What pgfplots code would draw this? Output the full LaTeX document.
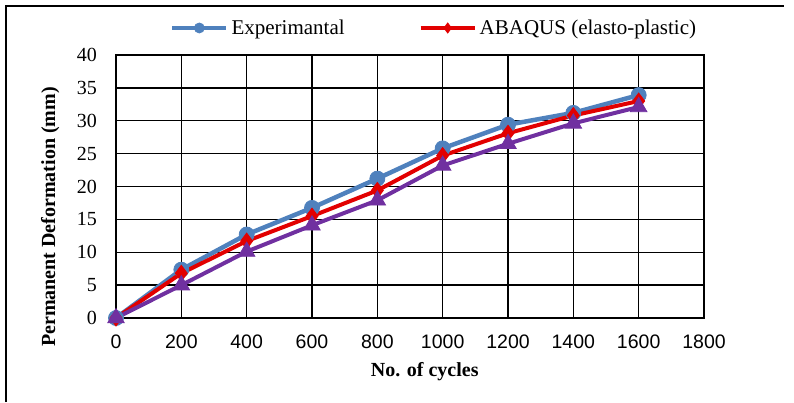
\documentclass[border=0pt]{standalone}
\usepackage{fontspec}
\setmainfont{Liberation Serif}
\newfontfamily\arial{Liberation Sans}
\usepackage{pgfplots}
\pgfplotsset{compat=1.18}
\definecolor{cblue}{RGB}{79,129,189}
\definecolor{cred}{RGB}{226,0,0}
\definecolor{cpurple}{RGB}{112,48,160}
\begin{document}
\begin{tikzpicture}[x=1pt,y=1pt]
\useasboundingbox (0,0) rectangle (794,402);
\draw[line width=1.8pt] (6,0) -- (6,396) -- (784,396);
\begin{axis}[
  at={(116pt,84pt)}, anchor=origin,
  scale only axis, width=588pt, height=263pt,
  xmin=0, xmax=1800, ymin=0, ymax=40,
  xtick={0,200,...,1800}, ytick={0,5,...,40},
  grid=major, major grid style={black, line width=1.4pt},
  axis line style={black, line width=1.8pt},
  tick style={draw=none},
  /pgf/number format/assume math mode=true,
  /pgf/number format/1000 sep={},
  xticklabel style={font=\arial\fontsize{19.5}{22}\selectfont, inner sep=0pt, anchor=north, yshift=-17pt},
  yticklabel style={font=\fontsize{20}{22}\selectfont, inner sep=0pt, anchor=east, xshift=-19pt},
  xlabel={No. of cycles},
  ylabel={Permanent Deformation (mm)},
  xlabel style={font=\bfseries\fontsize{20}{22}\selectfont, at={(axis description cs:0.525,-0.205)}, anchor=center},
  ylabel style={font=\bfseries\fontsize{20}{22}\selectfont, at={(axis description cs:-0.112,0.384)}, anchor=center, rotate=0},
  legend columns=2,
  legend style={draw=none, fill=none, inner sep=0pt, outer sep=0pt,
    at={(axis description cs:0.092,1.1027)}, anchor=west,
    font=\fontsize{21}{24}\selectfont,
    /tikz/every even column/.append style={column sep=71pt},
    nodes={inner sep=3pt}},
  legend image code/.code={\draw[mark repeat=2,mark phase=2,#1,mark size=5pt] plot coordinates {(0pt,0pt) (27pt,0pt) (54pt,0pt)};},
]
\addplot[cblue, line width=4.5pt, mark=*, mark size=7.5pt, mark options={solid, fill=cblue, draw=cblue, line width=0.8pt}] coordinates {
(0,0) (200,7.35) (400,12.7) (600,16.75) (800,21.2) (1000,25.8) (1200,29.4) (1400,31.2) (1600,33.9)};
\addlegendentry{Experimantal}
\addplot[cred, line width=4pt, mark=diamond*, mark size=8pt, mark options={solid, fill=cred, draw=cred, line width=0.8pt}] coordinates {
(0,0) (200,6.8) (400,11.7) (600,15.5) (800,19.4) (1000,24.7) (1200,28.1) (1400,30.8) (1600,33.0)};
\addlegendentry{ABAQUS (elasto-plastic)}
\addplot[cpurple, line width=4pt, mark=triangle*, mark size=9.5pt, mark options={solid, fill=cpurple, draw=cpurple, line width=0.8pt}, forget plot] coordinates {
(0,0) (200,5.0) (400,10.1) (600,14.1) (800,17.9) (1000,23.2) (1200,26.5) (1400,29.6) (1600,32.1)};
\end{axis}
\end{tikzpicture}
\end{document}
